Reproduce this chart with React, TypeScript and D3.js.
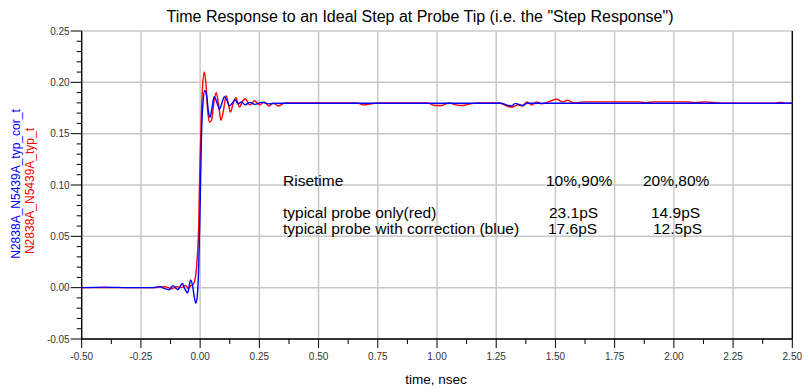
import React from 'react';
import * as d3 from 'd3';

// [time (ns), volts]
const redSeries: [number, number][] = [
  [-0.5, 0.0], [-0.4, 0.0], [-0.3, 0.0], [-0.2, 0.0], [-0.15, 0.001], [-0.12, -0.001],
  [-0.1, 0.001], [-0.08, 0.0], [-0.06, 0.002], [-0.05, -0.001], [-0.04, 0.002], [-0.03, 0.003],
  [-0.02, 0.01], [-0.012, 0.03], [-0.006, 0.06], [-0.002, 0.11], [0.004, 0.16], [0.01, 0.195],
  [0.018, 0.21], [0.024, 0.2], [0.032, 0.172], [0.04, 0.161], [0.048, 0.163], [0.058, 0.18],
  [0.068, 0.19], [0.078, 0.178], [0.088, 0.163], [0.098, 0.172], [0.11, 0.187], [0.12, 0.178],
  [0.128, 0.171], [0.14, 0.18], [0.151, 0.185], [0.166, 0.176], [0.18, 0.182], [0.19, 0.184],
  [0.21, 0.178], [0.23, 0.182], [0.25, 0.178], [0.27, 0.181], [0.29, 0.177], [0.31, 0.18],
  [0.33, 0.177], [0.36, 0.18], [0.45, 0.18], [0.55, 0.18], [0.66, 0.18], [0.69, 0.178],
  [0.72, 0.179], [0.75, 0.18], [0.9, 0.18], [0.96, 0.18], [0.99, 0.1775], [1.02, 0.1775],
  [1.05, 0.18], [1.08, 0.178], [1.11, 0.1775], [1.14, 0.179], [1.17, 0.18], [1.26, 0.18],
  [1.3, 0.1765], [1.32, 0.176], [1.34, 0.178], [1.36, 0.177], [1.38, 0.181], [1.4, 0.178],
  [1.42, 0.181], [1.44, 0.179], [1.47, 0.181], [1.505, 0.1835], [1.53, 0.181], [1.55, 0.1825],
  [1.58, 0.18], [1.62, 0.181], [1.85, 0.181], [1.88, 0.1802], [1.92, 0.181], [2.05, 0.181],
  [2.09, 0.1802], [2.13, 0.181], [2.2, 0.1797], [2.43, 0.1797], [2.45, 0.1806], [2.47, 0.1797],
  [2.5, 0.1797],
];

const blueSeries: [number, number][] = [
  [-0.5, 0.0], [-0.4, 0.0005], [-0.3, 0.0], [-0.2, 0.0], [-0.17, 0.001], [-0.15, -0.001],
  [-0.13, -0.002], [-0.115, 0.002], [-0.1, -0.001], [-0.094, -0.002], [-0.085, 0.001],
  [-0.075, 0.004], [-0.065, -0.001], [-0.052, -0.005], [-0.046, 0.002], [-0.04, 0.0075],
  [-0.032, 0.002], [-0.024, -0.01], [-0.018, -0.015], [-0.012, -0.008], [-0.006, 0.02],
  [0.0, 0.08], [0.006, 0.15], [0.012, 0.18], [0.02, 0.192], [0.028, 0.186], [0.036, 0.17],
  [0.042, 0.166], [0.05, 0.175], [0.059, 0.186], [0.07, 0.181], [0.082, 0.174], [0.092, 0.18],
  [0.103, 0.186], [0.114, 0.182], [0.124, 0.177], [0.136, 0.18], [0.148, 0.183], [0.16, 0.179],
  [0.175, 0.181], [0.19, 0.178], [0.21, 0.1805], [0.23, 0.1785], [0.26, 0.1805], [0.29, 0.179],
  [0.33, 0.1797], [1.27, 0.1797], [1.3, 0.1775], [1.315, 0.177], [1.33, 0.1795], [1.35, 0.178],
  [1.365, 0.1775], [1.38, 0.1797], [2.5, 0.1797],
];

const xTicks = [-0.5, -0.25, 0, 0.25, 0.5, 0.75, 1, 1.25, 1.5, 1.75, 2, 2.25, 2.5];
const yTicks = [-0.05, 0, 0.05, 0.1, 0.15, 0.2, 0.25];

const riseHeader = ['Risetime', '10%,90%', '20%,80%'];
const riseRed = ['typical probe only(red)', '23.1pS', '14.9pS'];
const riseBlue = ['typical probe with correction (blue)', '17.6pS', '12.5pS'];

const W = 809;
const H = 392;
const margin = { left: 81.7, right: 809 - 792.3, top: 31, bottom: 392 - 339 };
const font = 'Liberation Sans, Arial, sans-serif';

const App: React.FC = () => {
  const x = d3.scaleLinear().domain([-0.5, 2.5]).range([margin.left, W - margin.right]);
  const y = d3.scaleLinear().domain([-0.05, 0.25]).range([H - margin.bottom, margin.top]);

  const line = d3
    .line<[number, number]>()
    .x((d) => x(d[0]))
    .y((d) => y(d[1]))
    .curve(d3.curveMonotoneX);

  const xMinor = d3.range(-0.5, 2.5001, 0.125);
  const yMinor = d3.range(-0.05, 0.2501, 0.01);
  const [x0, x1] = x.range();
  const [y0, y1] = y.range();

  return (
    <svg width={W} height={H} style={{ position: 'absolute', left: 0, top: 0, background: '#fff' }} fontFamily={font}>
      <text x={420} y={22} textAnchor="middle" fontSize={16} fill="#000">
        Time Response to an Ideal Step at Probe Tip (i.e. the "Step Response")
      </text>

      {/* grid */}
      <g stroke="#c8c8c8" strokeWidth={1.5}>
        {xTicks.map((t) => (
          <line key={'gx' + t} x1={x(t)} x2={x(t)} y1={y1} y2={y0} />
        ))}
        {yTicks.map((t) => (
          <line key={'gy' + t} x1={x0} x2={x1} y1={y(t)} y2={y(t)} />
        ))}
      </g>

      {/* frame */}
      <g stroke="#000" strokeWidth={1.3}>
        <line x1={x0} x2={x0} y1={y1} y2={y0} />
        <line x1={x0} x2={x1} y1={y0} y2={y0} />
        <line x1={x1} x2={x1} y1={y1} y2={y0} />
      </g>

      {/* ticks */}
      <g stroke="#000" strokeWidth={1}>
        {xMinor.map((t, i) => (
          <line key={'xt' + i} x1={x(t)} x2={x(t)} y1={y0} y2={y0 + (i % 2 === 0 ? 9 : 5)} />
        ))}
        {yMinor.map((t, i) => (
          <line key={'yt' + i} x1={x0} x2={x0 - (i % 5 === 0 ? 11 : 5)} y1={y(t)} y2={y(t)} />
        ))}
      </g>

      <g fontSize={10} fill="#333">
        {xTicks.map((t) => (
          <text key={'xl' + t} x={x(t)} y={360} textAnchor="middle">
            {t.toFixed(2)}
          </text>
        ))}
        {yTicks.map((t) => (
          <text key={'yl' + t} x={x0 - 12} y={y(t) + 3.5} textAnchor="end">
            {t.toFixed(2)}
          </text>
        ))}
      </g>

      <text x={436} y={384} textAnchor="middle" fontSize={13.5} fill="#000">
        time, nsec
      </text>

      <g fontSize={12} textAnchor="middle">
        <text transform="translate(20,184) rotate(-90)" fill="#0000ff">
          N2838A_N5439A_typ_cor_t
        </text>
        <text transform="translate(34,191) rotate(-90)" fill="#ff0000">
          N2838A_N5439A_typ_t
        </text>
      </g>

      {/* series */}
      <path d={line(redSeries) ?? ''} fill="none" stroke="#ff0000" strokeWidth={1.4} />
      <path d={line(blueSeries) ?? ''} fill="none" stroke="#0000ff" strokeWidth={1.4} />

      {/* risetime table */}
      <g fontSize={15.5} fill="#000">
        <text x={283} y={186}>{riseHeader[0]}</text>
        <text x={546} y={186}>{riseHeader[1]}</text>
        <text x={643} y={186}>{riseHeader[2]}</text>
        <text x={283} y={218}>{riseRed[0]}</text>
        <text x={549} y={218}>{riseRed[1]}</text>
        <text x={651} y={218}>{riseRed[2]}</text>
        <text x={283} y={234}>{riseBlue[0]}</text>
        <text x={548} y={234}>{riseBlue[1]}</text>
        <text x={653} y={234}>{riseBlue[2]}</text>
      </g>
    </svg>
  );
};

export default App;
